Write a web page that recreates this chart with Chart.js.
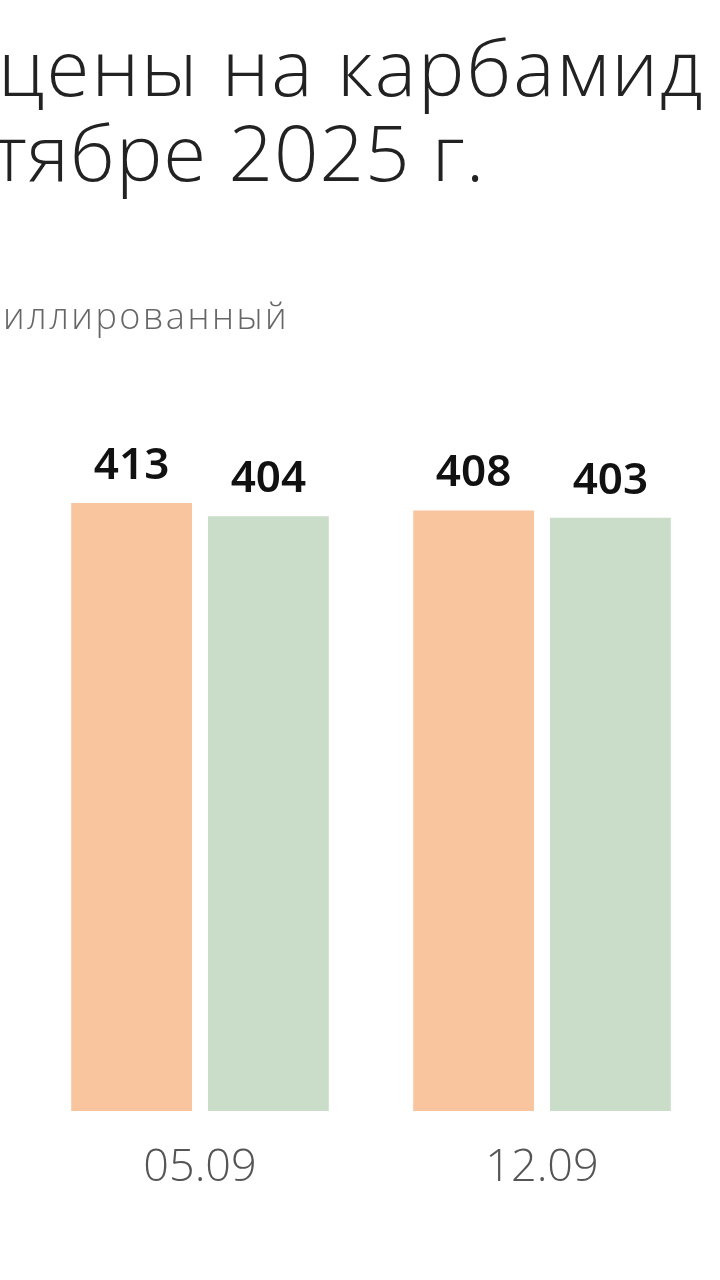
<!DOCTYPE html>
<html lang="ru">
<head>
<meta charset="UTF-8">
<title>Цены на карбамид</title>
<script src="https://cdn.jsdelivr.net/npm/chart.js"></script>
<style>
    html, body {
        margin: 0;
        padding: 0;
        background: #fff;
    }
    .wrap {
        position: relative;
        width: 720px;
        height: 1280px;
    }
</style>
</head>
<body>

<div class="wrap">
    <canvas id="chart" width="720" height="1280"></canvas>
</div>

<script>
    const categories = ['05.09', '12.09'];
    const granValues = [413, 408];
    const prillValues = [404, 403];
    const seriesNames = ['гранулированный', 'приллированный'];
    const titleLines = ['цены на карбамид', 'сентябре 2025 г.'];

    // title, cropped legend text and value labels
    const textPlugin = {
        id: 'texts',
        afterDraw(chart) {
            const ctx = chart.ctx;
            ctx.save();
            ctx.textBaseline = 'alphabetic';
            ctx.textAlign = 'left';
            ctx.fillStyle = '#222';
            ctx.font = '300 78px "Open Sans"';
            ctx.letterSpacing = '2px';
            ctx.fillText(titleLines[0], -2, 96);
            ctx.letterSpacing = '1px';
            const cut = ctx.measureText('сен').width;
            ctx.fillText(titleLines[1], -cut - 8, 181);

            ctx.fillStyle = '#666';
            ctx.font = '300 36px "Open Sans"';
            ctx.letterSpacing = '2.5px';
            const cut2 = ctx.measureText('пр').width;
            ctx.fillText(seriesNames[1], -cut2 + 3, 329);

            ctx.letterSpacing = '0px';
            ctx.fillStyle = '#111';
            ctx.font = '600 44px "Noto Sans"';
            ctx.textAlign = 'center';
            chart.data.datasets.forEach((ds, i) => {
                chart.getDatasetMeta(i).data.forEach((bar, j) => {
                    ctx.fillText(ds.data[j], bar.x, bar.y - 24);
                });
            });
            ctx.restore();
        }
    };

    new Chart(document.getElementById('chart'), {
        type: 'bar',
        data: {
            labels: categories,
            datasets: [
                {
                    label: seriesNames[0],
                    data: granValues,
                    backgroundColor: '#F9C59E',
                    categoryPercentage: 0.8,
                    barPercentage: 0.883
                },
                {
                    label: seriesNames[1],
                    data: prillValues,
                    backgroundColor: '#C9DDC9',
                    categoryPercentage: 0.8,
                    barPercentage: 0.883
                }
            ]
        },
        options: {
            responsive: false,
            animation: false,
            layout: { padding: { left: 29, right: 7, top: 375, bottom: 55 } },
            plugins: {
                legend: { display: false },
                tooltip: { enabled: false }
            },
            scales: {
                x: {
                    grid: { display: false, drawTicks: false },
                    border: { display: false },
                    ticks: {
                        color: '#555',
                        padding: 30,
                        font: { family: 'Open Sans', size: 45, weight: 300 }
                    }
                },
                y: { display: false, min: 0, max: 500 }
            }
        },
        plugins: [textPlugin]
    });
</script>

</body>
</html>
